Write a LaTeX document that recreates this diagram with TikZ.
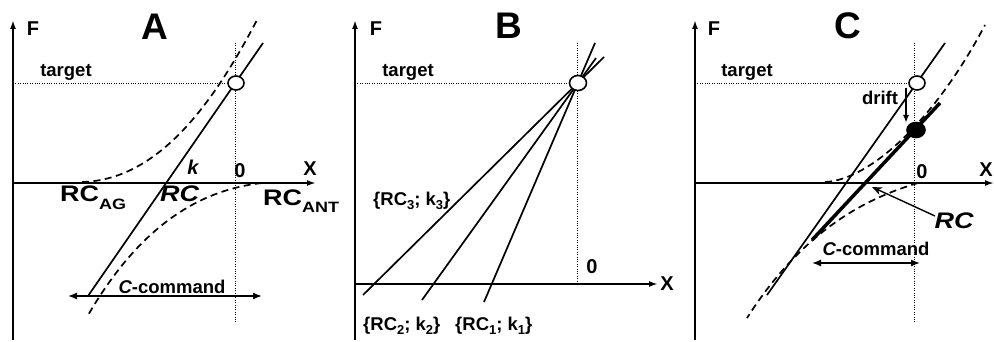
\documentclass[tikz,border=0pt]{standalone}
\usepackage{fontspec}
\setmainfont{Liberation Sans}
\newfontfamily\widefont[FakeStretch=1.2]{Liberation Sans}
\usetikzlibrary{arrows.meta,shapes.geometric}
\newcommand\mysub[2][-8pt]{\raisebox{#1}{\fontsize{15}{15}\selectfont #2}}
\newcommand\mysmallsub[1]{\raisebox{-4pt}{\fontsize{13}{13}\selectfont #1}}
\begin{document}
\begin{tikzpicture}[x=1pt,y=-1pt,
  axis/.style={line width=1.9pt,-{Latex[length=9pt,width=6pt]}},
  guide/.style={line width=0.9pt,dash pattern=on 1pt off 1.4pt},
  response/.style={line width=1.7pt},
  thickresp/.style={line width=3.5pt},
  curvedash/.style={line width=1.7pt,dash pattern=on 7pt off 4.5pt},
  span/.style={line width=1.4pt,{Latex[length=9pt,width=7pt]}-{Latex[length=9pt,width=7pt]}},
  lbl/.style={font=\fontsize{18.5}{20}\selectfont\bfseries,inner sep=0pt},
  axlbl/.style={font=\fontsize{20}{22}\selectfont\bfseries,inner sep=0pt},
  rclbl/.style={font=\widefont\fontsize{22.5}{23}\selectfont\bfseries,inner sep=0pt},
  ttl/.style={font=\fontsize{37}{40}\selectfont\bfseries,inner sep=0pt},
  openpt/.style={ellipse,draw,line width=1.6pt,fill=white,minimum width=16pt,minimum height=14pt,inner sep=0pt},
  fullpt/.style={ellipse,draw,line width=1.6pt,fill=black,minimum width=18pt,minimum height=15pt,inner sep=0pt},
  ]
\useasboundingbox (0,0) rectangle (994,342);

% ================= Panel A =================
\coordinate (AFb) at (13,340); \coordinate (AFt) at (13,20);
\coordinate (AXl) at (13,183); \coordinate (AXr) at (316,183);
\coordinate (Atl) at (13,83);
\coordinate (Avt) at (235,43); \coordinate (Avb) at (235,322);
\coordinate (Alo) at (88,296); \coordinate (Ahi) at (263,43);
\coordinate (Aug0) at (82,182); \coordinate (Aug1) at (257,20);
\coordinate (Aant0) at (262,183); \coordinate (Aant1) at (87,317);
\coordinate (Acl) at (68,296); \coordinate (Acr) at (262,296);

\draw[axis] (AFb) -- (AFt);
\draw[axis] (AXl) -- (AXr);
\draw[guide] (Avt) -- (Avb);
\draw[curvedash] (Aug0) .. controls (160,180) and (215,100) .. (Aug1);
\draw[curvedash] (Aant0) .. controls (200,190) and (140,225) .. (Aant1);
\draw[response] (Alo) -- (Ahi);
\node[openpt] (At) at (236,83) {};
\draw[guide] (Atl) -- (At.west);
\draw[span] (Acl) -- (Acr);

\node[axlbl] (AF) at (33,29) {F};
\node[ttl] (Attl) at (155,27) {A};
\node[axlbl] (AX) at (310,169) {X};
\node[axlbl] (A0) at (240,171) {0};
\node[lbl,anchor=base] (Atg) at (66,77) {target};
\node[axlbl,anchor=center] (Ak) at (193,167) {\itshape k};
\node[rclbl,anchor=base west] (Arcag) at (60,202) {RC\mysub{AG}};
\node[rclbl,anchor=base west] (Arc) at (160,202) {\itshape RC};
\node[rclbl,anchor=base west] (Arcant) at (263,205) {RC\mysub{ANT}};
\node[lbl,anchor=base] (Acc) at (172,293) {\itshape C\upshape-command};

% ================= Panel B =================
\coordinate (BFb) at (355,340); \coordinate (BFt) at (355,20);
\coordinate (BXl) at (355,284); \coordinate (BXr) at (658,284);
\coordinate (Btl) at (355,83);
\coordinate (Bvt) at (577,43); \coordinate (Bvb) at (577,284);
\coordinate (B3lo) at (363,295); \coordinate (B3hi) at (604,57);
\coordinate (B2lo) at (422,300); \coordinate (B2hi) at (596,58);
\coordinate (B1lo) at (484,302); \coordinate (B1hi) at (595,43);

\draw[axis] (BFb) -- (BFt);
\draw[axis] (BXl) -- (BXr);
\draw[guide] (Bvt) -- (Bvb);
\draw[response] (B3lo) -- (B3hi);
\draw[response] (B2lo) -- (B2hi);
\draw[response] (B1lo) -- (B1hi);
\node[openpt,minimum width=17pt,minimum height=15pt] (Bt) at (578,83) {};
\draw[guide] (Btl) -- (Bt.west);

\node[axlbl] (BF) at (376,29) {F};
\node[ttl] (Bttl) at (509,26) {B};
\node[axlbl] (BX) at (667,284) {X};
\node[axlbl] (B0) at (592,267) {0};
\node[lbl,anchor=base] (Btg) at (408,77) {target};
\node[lbl,anchor=base west] (B3) at (373,205) {\{RC\mysmallsub{3}; k\mysmallsub{3}\}};
\node[lbl,anchor=base west] (B2) at (363,330) {\{RC\mysmallsub{2}; k\mysmallsub{2}\}};
\node[lbl,anchor=base west] (B1) at (455,330) {\{RC\mysmallsub{1}; k\mysmallsub{1}\}};

% ================= Panel C =================
\coordinate (CFb) at (695,340); \coordinate (CFt) at (695,20);
\coordinate (CXl) at (695,183); \coordinate (CXr) at (994,183);
\coordinate (Ctl) at (695,83);
\coordinate (Cvt) at (914,43); \coordinate (Cvb) at (914,322);
\coordinate (Clo) at (767,295); \coordinate (Chi) at (945,43);
\coordinate (Ctlo) at (812,240); \coordinate (Cthi) at (940,103);
\coordinate (Cug0) at (825,182); \coordinate (Cug1) at (985,25);
\coordinate (Cant0) at (918,183); \coordinate (Cant1) at (747,318);
\coordinate (Ccl) at (812,263); \coordinate (Ccr) at (920,263);
\coordinate (Crct) at (935,216); \coordinate (Crch) at (872,187);

\draw[axis] (CFb) -- (CFt);
\draw[axis] (CXl) -- (CXr);
\draw[guide] (Cvt) -- (Cvb);
\draw[curvedash] (Cug0) .. controls (870,180) and (935,120) .. (Cug1);
\draw[curvedash] (Cant0) .. controls (860,200) and (800,235) .. (Cant1);
\draw[response] (Clo) -- (Chi);
\draw[thickresp] (Ctlo) -- (Cthi);
\node[openpt] (Ct) at (917,83) {};
\node[fullpt] (Cd) at (916,130) {};
\draw[guide] (Ctl) -- (Ct.west);
\draw[line width=1.9pt,-{Latex[length=8pt,width=6pt]}] (906,88) -- (906,123);
\draw[span] (Ccl) -- (Ccr);
\draw[line width=1.4pt,-{Stealth[length=10pt,width=8pt,open]}] (Crct) -- (Crch);

\node[axlbl] (CF) at (714,29) {F};
\node[ttl] (Cttl) at (848,26) {C};
\node[axlbl] (CX) at (986,170) {X};
\node[axlbl] (C0) at (922,172) {0};
\node[lbl,anchor=base] (Ctg) at (747,77) {target};
\node[lbl,anchor=base] (Cdr) at (880,105) {drift};
\node[rclbl] (Crc) at (954,221) {\itshape RC};
\node[lbl,anchor=base] (Ccc) at (876,255) {\itshape C\upshape-command};
\end{tikzpicture}
\end{document}
